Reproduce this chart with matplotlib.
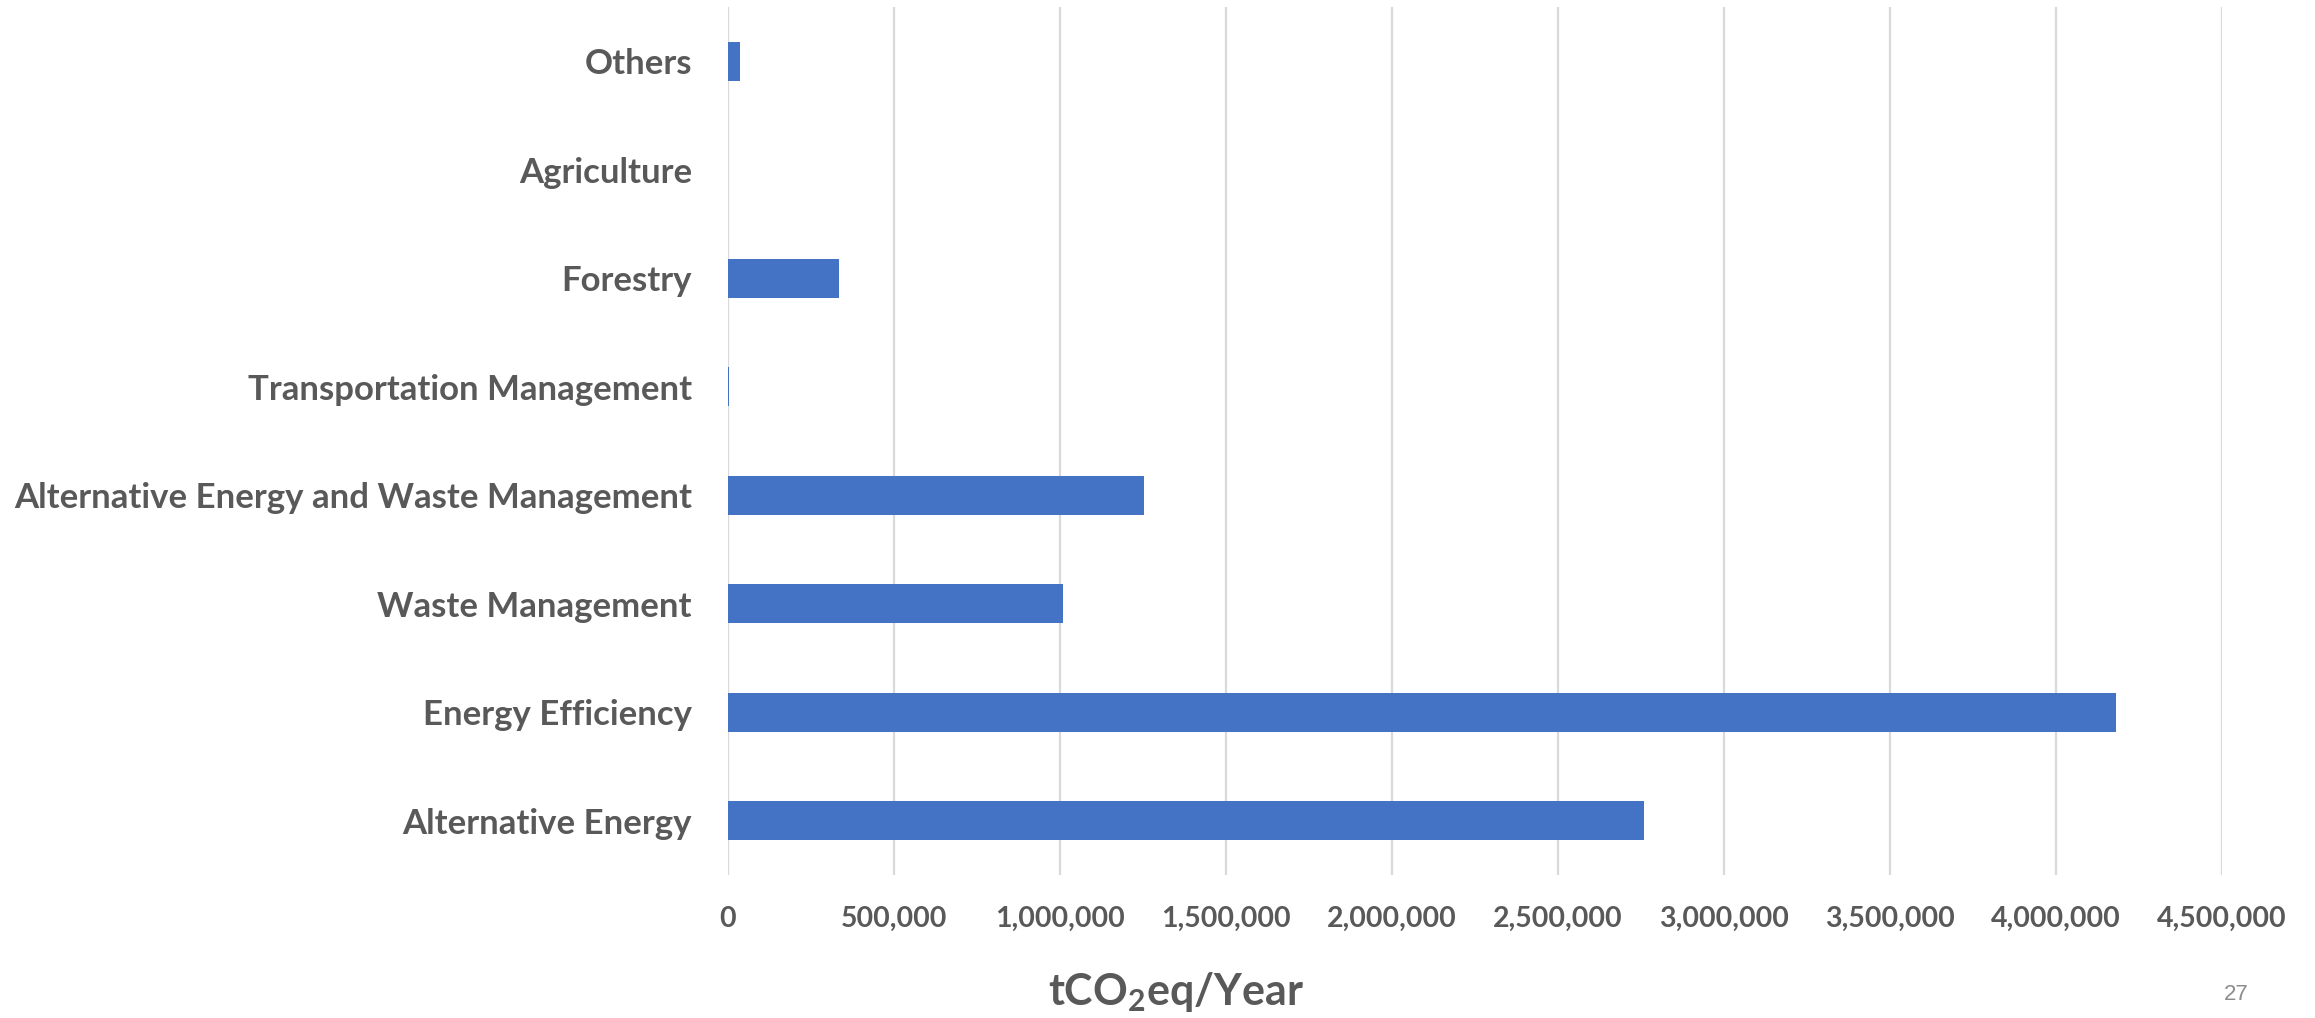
import matplotlib
matplotlib.use("Agg")
import matplotlib.pyplot as plt
from matplotlib.ticker import FuncFormatter

categories = ["Alternative Energy", "Energy Efficiency", "Waste Management",
              "Alternative Energy and Waste Management", "Transportation Management",
              "Forestry", "Agriculture", "Others"]
values = [2760000, 4180000, 1010000, 1254000, 4000, 334000, 0, 37000]
xticks = [0, 500000, 1000000, 1500000, 2000000, 2500000, 3000000, 3500000, 4000000, 4500000]

TEXT = "#595959"
BAR = "#4472C4"
GRID = "#D9D9D9"

plt.rcParams['font.family'] = ['Lato', 'DejaVu Sans']

fig = plt.figure(figsize=(23.15, 10.18), dpi=100)
ax = fig.add_axes([728/2315, 1-875/1018, (2222-728)/2315, (875-7)/1018])

ax.barh(range(len(categories)), values, height=0.355, color=BAR, zorder=3)
ax.set_ylim(-0.5, len(categories) - 0.5)
ax.set_xlim(0, 4500000)
ax.set_yticks(range(len(categories)))
ax.set_yticklabels(categories)
ax.set_xticks(xticks)
ax.xaxis.set_major_formatter(FuncFormatter(lambda v, p: f"{int(v):,}"))

for lab in ax.get_yticklabels():
    lab.set_fontsize(25)
    lab.set_fontweight('bold')
    lab.set_color(TEXT)
for lab in ax.get_xticklabels():
    lab.set_fontsize(20.5)
    lab.set_fontweight('bold')
    lab.set_color(TEXT)

ax.tick_params(axis='y', length=0, pad=26)
ax.tick_params(axis='x', length=0, pad=22)
ax.grid(axis='x', color=GRID, linewidth=1.6, zorder=0)
ax.grid(axis='y', visible=False)
for s in ax.spines.values():
    s.set_visible(False)

fig.text(1176/2315, 1-992/1018, r"tCO$_\mathregular{2}$eq/Year", fontsize=31,
         fontweight='bold', color=TEXT, ha='center', va='center')
fig.text(2236/2315, 1-995/1018, "27", fontsize=16, color="#8C8C8C",
         ha='center', va='center', family=['Liberation Sans', 'DejaVu Sans'])

fig.savefig("out.png", dpi=100, facecolor='white')
